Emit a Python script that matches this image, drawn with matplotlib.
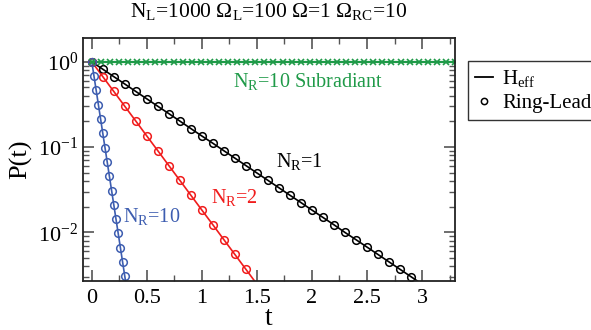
import matplotlib
matplotlib.use("Agg")
import matplotlib.pyplot as plt
from matplotlib.lines import Line2D
from matplotlib.ticker import LogLocator, MultipleLocator, NullFormatter

plt.rcParams['font.family'] = ['Liberation Serif', 'DejaVu Serif']
plt.rcParams['mathtext.fontset'] = 'custom'
plt.rcParams['mathtext.rm'] = 'Liberation Serif'
plt.rcParams['mathtext.default'] = 'regular'

# N_R = 1 (black), sampled every 0.1
t_nr1 = [0.0, 0.1, 0.2, 0.3, 0.4, 0.5, 0.6, 0.7, 0.8, 0.9, 1.0, 1.1, 1.2, 1.3, 1.4,
         1.5, 1.6, 1.7, 1.8, 1.9, 2.0, 2.1, 2.2, 2.3, 2.4, 2.5, 2.6, 2.7, 2.8, 2.9, 3.0]
p_nr1 = [1.0, 0.819, 0.670, 0.549, 0.449, 0.368, 0.301, 0.247, 0.202, 0.165, 0.135,
         0.111, 0.0907, 0.0743, 0.0608, 0.0498, 0.0408, 0.0334, 0.0273, 0.0224, 0.0183,
         0.0150, 0.0123, 0.0100, 0.00823, 0.00674, 0.00552, 0.00452, 0.00370, 0.00303, 0.00248]

# N_R = 2 (red)
t_nr2 = [0.0, 0.1, 0.2, 0.3, 0.4, 0.5, 0.6, 0.7, 0.8, 0.9, 1.0, 1.1, 1.2, 1.3, 1.4, 1.5]
p_nr2 = [1.0, 0.670, 0.449, 0.301, 0.202, 0.135, 0.0907, 0.0608, 0.0408, 0.0273, 0.0183,
         0.0123, 0.00823, 0.00552, 0.00370, 0.00248]

# N_R = 10 (blue), sampled every 0.02
t_nr10 = [0.0, 0.02, 0.04, 0.06, 0.08, 0.10, 0.12, 0.14, 0.16, 0.18, 0.20, 0.22, 0.24,
          0.26, 0.28, 0.30, 0.32]
p_nr10 = [1.0, 0.680, 0.462, 0.314, 0.214, 0.145, 0.0986, 0.0671, 0.0456, 0.0310, 0.0211,
          0.0143, 0.00974, 0.00662, 0.00450, 0.00306, 0.00208]

# N_R = 10 subradiant (green), stays at 1
t_sub = [0.0, 0.0825, 0.165, 0.2475, 0.33, 0.4125, 0.495, 0.5775, 0.66, 0.7425, 0.825,
         0.9075, 0.99, 1.0725, 1.155, 1.2375, 1.32, 1.4025, 1.485, 1.5675, 1.65, 1.7325,
         1.815, 1.8975, 1.98, 2.0625, 2.145, 2.2275, 2.31, 2.3925, 2.475, 2.5575, 2.64,
         2.7225, 2.805, 2.8875, 2.97, 3.0525, 3.135, 3.2175, 3.3]
p_sub = [1.0] * len(t_sub)

c_black = 'black'
c_red = '#f01c1c'
c_blue = '#3d5db0'
c_green = '#1f9a48'

fig = plt.figure(figsize=(5.91, 3.30), dpi=100)
ax = fig.add_axes([0.1404, 0.1485, 0.6296, 0.7363])

# H_eff lines
ax.plot(t_nr1, p_nr1, color=c_black, lw=1.2)
ax.plot(t_nr2, p_nr2, color=c_red, lw=1.2)
ax.plot(t_nr10, p_nr10, color=c_blue, lw=1.2)
ax.plot(t_sub, p_sub, color=c_green, lw=1.6)

# Ring-Lead markers (last line point is past the bottom, no marker)
mk = dict(ls='none', marker='o', mfc='none', ms=5.5, mew=1.1)
ax.plot(t_nr1[:-1], p_nr1[:-1], mec=c_black, **mk)
ax.plot(t_nr2[:-1], p_nr2[:-1], mec=c_red, **mk)
ax.plot(t_nr10[:-1], p_nr10[:-1], mec=c_blue, **mk)
ax.plot(t_sub, p_sub, ls='none', marker='x', color=c_green, ms=4, mew=1.2)

ax.set_yscale('log')
ax.set_xlim(-0.08, 3.3)
ax.set_ylim(0.0027, 1.9)

ax.xaxis.set_minor_locator(MultipleLocator(0.25))
ax.set_xticks([0, 0.5, 1, 1.5, 2, 2.5, 3])
ax.set_xticklabels(['0', '0.5', '1', '1.5', '2', '2.5', '3'])
ax.yaxis.set_major_locator(LogLocator(base=10))
ax.yaxis.set_minor_locator(LogLocator(base=10, subs=range(2, 10)))
ax.yaxis.set_minor_formatter(NullFormatter())

ax.tick_params(which='both', direction='in', top=True, right=True, color='#555555',
               labelsize=16)
ax.tick_params(which='major', length=8, width=1.2)
ax.tick_params(which='minor', length=4, width=1.0)
ax.tick_params(axis='x', pad=6)
for s in ax.spines.values():
    s.set_linewidth(1.3)
    s.set_color('#222222')

ax.set_xlabel('t', fontsize=20, labelpad=-2)
ax.set_ylabel('P(t)', fontsize=19, labelpad=4)
ax.set_title('N$_L$=1000 Ω$_L$=100 Ω=1 Ω$_{RC}$=10', fontsize=15.5, pad=15)

ax.text(1.28, 0.58, 'N$_R$=10 Subradiant', color=c_green, fontsize=14.5, va='center')
ax.text(1.67, 0.068, 'N$_R$=1', color=c_black, fontsize=14.5, va='center')
ax.text(1.08, 0.026, 'N$_R$=2', color=c_red, fontsize=14.5, va='center')
ax.text(0.28, 0.0155, 'N$_R$=10', color=c_blue, fontsize=14.5, va='center')

handles = [Line2D([], [], color='black', lw=1.3),
           Line2D([], [], ls='none', marker='o', mfc='none', mec='black', ms=4.5, mew=1.1)]
fig.legend(handles, ['H$_{eff}$', 'Ring-Lead'], loc='upper left',
           bbox_to_anchor=(0.792, 0.815), fontsize=15, frameon=True, fancybox=False,
           edgecolor='#333333', framealpha=1, handlelength=0.85, handletextpad=0.45,
           labelspacing=0.2, borderpad=0.35, borderaxespad=0)

fig.savefig('out.png', dpi=100)
